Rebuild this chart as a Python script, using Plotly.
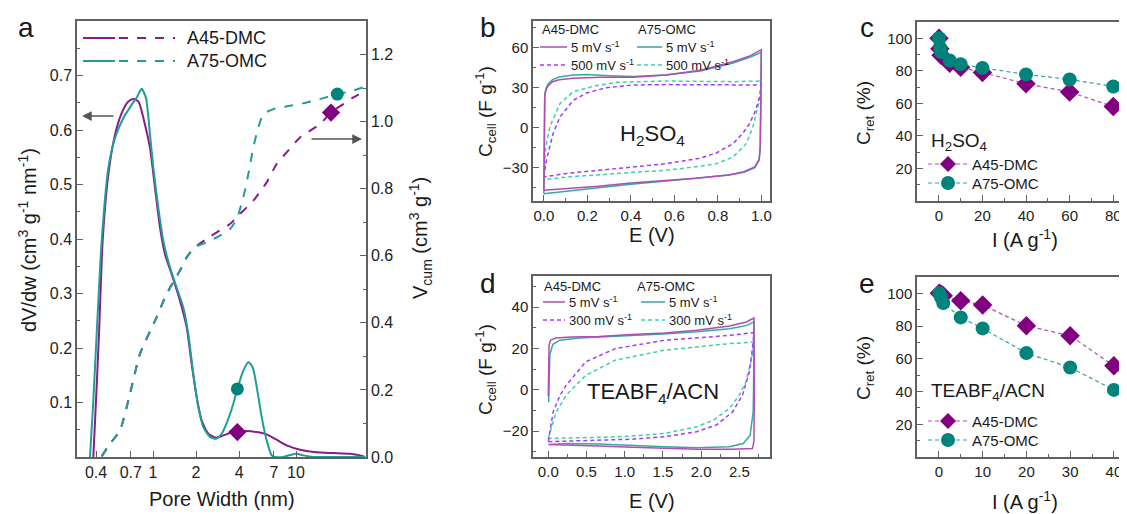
import plotly.graph_objects as go

# ---------------- Panel a : pore size distribution ----------------
psd_w_a45 = [0.3826, 0.3994, 0.4191, 0.4446, 0.4872, 0.5423, 0.6037, 0.6722, 0.7285, 0.7898,
             0.8792, 0.9528, 1.0327, 1.1193, 1.2131, 1.3506, 1.5445, 1.7197, 1.8639, 2.0201,
             2.1892, 2.4373, 2.7580, 3.1034, 3.4551, 3.8884, 4.5186, 5.3075, 6.2360, 7.3253,
             8.6040, 10.666, 13.947, 18.242, 23.855, 28.031, 30.377]
psd_a45 = [0, 0.1037, 0.2256, 0.3963, 0.5183, 0.5915, 0.6311, 0.6524, 0.6567, 0.6524,
           0.6098, 0.5671, 0.4939, 0.4207, 0.3720, 0.3354, 0.2866, 0.2378, 0.1707, 0.1098,
           0.0671, 0.0427, 0.0354, 0.0396, 0.0439, 0.0457, 0.0476, 0.0457, 0.0415, 0.0317,
           0.0213, 0.0134, 0.0085, 0.0073, 0.0061, 0.0030, 0]

psd_w_a75 = [0.3625, 0.3826, 0.4037, 0.4375, 0.4872, 0.5423, 0.6202, 0.7092, 0.7767, 0.8332,
             0.8934, 0.9528, 1.0054, 1.0897, 1.1810, 1.3148, 1.4637, 1.6297, 1.7665, 1.9146,
             2.0749, 2.2490, 2.5036, 2.7580, 3.0218, 3.3637, 3.6459, 3.8884, 4.2823, 4.6418,
             4.9770, 5.3646, 5.7532, 6.2360, 6.7579, 7.1307, 8.1547, 9.0781, 10.108, 11.254,
             13.218, 18.242, 30.377]
psd_a75 = [0, 0.1037, 0.2256, 0.3963, 0.5305, 0.5854, 0.6220, 0.6463, 0.6616, 0.6756,
           0.6585, 0.5915, 0.5305, 0.4573, 0.3963, 0.3476, 0.3110, 0.2744, 0.2256, 0.1524,
           0.0915, 0.0549, 0.0366, 0.0335, 0.0427, 0.0701, 0.0976, 0.1250, 0.1585, 0.1738,
           0.1646, 0.1220, 0.0732, 0.0305, 0.0030, 0, 0, 0.0037, 0.0061, 0.0030,
           0, 0, 0]

cum_w_a45 = [0.4375, 0.5005, 0.5877, 0.6905, 0.8112, 1.0608, 1.2462, 1.5445, 1.7197, 1.9667,
             2.5036, 3.4551, 4.0590, 5.0307, 6.2360, 7.3253, 8.6040, 10.666, 14.715, 17.573,
             21.429, 25.171, 30.377]
cum_a45 = [0.002, 0.0397, 0.0794, 0.1886, 0.3077, 0.4169, 0.4864, 0.5559, 0.5956, 0.6254,
           0.6571, 0.6949, 0.7246, 0.7643, 0.8189, 0.8735, 0.9083, 0.9529, 0.9927, 1.0274,
           1.0522, 1.0721, 1.0919]

cum_w_a75 = [0.4375, 0.5005, 0.5877, 0.6905, 0.8112, 1.0608, 1.2462, 1.5445, 1.7197, 1.9667,
             2.3730, 2.9415, 3.4551, 3.8466, 4.2823, 4.6418, 5.0307, 5.4520, 5.9102, 6.9423,
             9.0781, 11.874, 15.526, 19.454, 23.855, 30.377]
cum_a75 = [0.002, 0.0397, 0.0794, 0.1886, 0.3077, 0.4169, 0.4864, 0.5559, 0.5956, 0.6254,
           0.6403, 0.6601, 0.6800, 0.7097, 0.7743, 0.8437, 0.9232, 0.9827, 1.0224, 1.0373,
           1.0473, 1.0572, 1.0701, 1.0820, 1.0899, 1.1038]

mark_psd_w = [3.89]
mark_psd_a45 = [0.0457]
mark_psd_a75 = [0.125]
mark_cum_w_a45 = [17.57]
mark_cum_a45 = [1.027]
mark_cum_w_a75 = [19.45]
mark_cum_a75 = [1.082]

pore_ticks = [0.4, 0.7, 1, 2, 4, 7, 10]
pore_ticktext = ["0.4", "0.7", "1", "2", "4", "7", "10"]

# ---------------- Panel b : CV in H2SO4 ----------------
b_E_a45_5 = [0, 0.002, 0.004, 0.01, 0.02, 0.04, 0.07, 0.135, 0.26, 0.41, 0.56, 0.72, 0.87, 0.95, 1.0,
             0.998, 0.995, 0.99, 0.97, 0.92, 0.85, 0.7, 0.55, 0.4, 0.25, 0.1, 0]
b_C_a45_5 = [-47, 10, 24, 28.5, 31.5, 34.5, 36, 37, 37.8, 37.8, 39.5, 43, 49.5, 54, 58.5,
             20, -15, -24, -29.5, -33, -35.5, -38, -39.5, -41.5, -44, -46, -47]
b_E_a75_5 = [0, 0.002, 0.004, 0.01, 0.02, 0.04, 0.07, 0.135, 0.2, 0.3, 0.41, 0.56, 0.72, 0.87, 0.95, 1.0,
             0.998, 0.995, 0.99, 0.97, 0.92, 0.85, 0.7, 0.55, 0.4, 0.25, 0.1, 0]
b_C_a75_5 = [-49.5, 10, 25, 29.5, 33, 36, 38, 39.5, 39.8, 39, 38.3, 39.5, 42.5, 48.5, 53, 56.5,
             20, -15, -24, -30, -33.5, -35.5, -38, -40, -42.5, -45, -47.5, -49.5]
b_E_a45_500 = [0, 0.012, 0.043, 0.074, 0.135, 0.196, 0.288, 0.41, 0.56, 0.72, 0.87, 1.0,
               0.992, 0.974, 0.946, 0.916, 0.87, 0.793, 0.717, 0.56, 0.41, 0.257, 0.104, 0]
b_C_a45_500 = [-37, -24, -4, 8, 20.5, 26, 30, 32, 32.3, 32, 32, 32,
               23, 13, 3, -4, -12, -19, -23, -27, -29.5, -32, -34.3, -37]
b_E_a75_500 = [0, 0.008, 0.028, 0.074, 0.135, 0.227, 0.334, 0.56, 0.87, 1.0,
               0.995, 0.985, 0.962, 0.931, 0.87, 0.793, 0.717, 0.56, 0.41, 0.257, 0.104, 0]
b_C_a75_500 = [-39, -15, 1, 18, 27, 31, 34, 35, 34.5, 35,
               25, 16, 1, -12, -22, -27, -29, -32, -33.5, -35, -37, -39]

# ---------------- Panel d : CV in TEABF4/ACN ----------------
d_E_a45_5 = [0, 0.004, 0.01, 0.03, 0.1, 0.3, 0.66, 1.09, 1.52, 1.94, 2.37, 2.59, 2.69,
             2.695, 2.69, 2.67, 2.4, 1.95, 1.52, 1.1, 0.66, 0.24, 0.02, 0]
d_C_a45_5 = [-3, 10, 21.5, 24, 25, 25.5, 25.8, 26.7, 27.5, 28.8, 30.8, 32.8, 34.7,
             0, -25, -28.4, -28.7, -28.7, -28.4, -27.8, -27.2, -26.8, -26.4, -26.4]
d_E_a75_5 = [0.005, 0.02, 0.06, 0.15, 0.4, 0.9, 1.5, 1.94, 2.37, 2.59, 2.69,
             2.685, 2.68, 2.64, 2.55, 2.37, 1.94, 1.52, 1.1, 0.66, 0.24, 0.02]
d_C_a75_5 = [-6, 17, 22, 24, 25, 25.8, 27, 28, 29.5, 31, 32.8,
             0, -10.7, -22, -26, -27.5, -28, -27.5, -26.8, -26.2, -26, -26.4]
d_E_a45_300 = [0, 0.064, 0.15, 0.235, 0.49, 0.876, 1.517, 2.37, 2.69,
               2.67, 2.63, 2.54, 2.41, 2.2, 1.94, 1.52, 1.09, 0.66, 0.235, 0]
d_C_a45_300 = [-25, -10.7, -3, 2.2, 13.5, 19.9, 23.9, 26.3, 27.6,
               19.9, 8.7, -2.6, -10.7, -17, -20.3, -22.7, -23.9, -24.5, -24.8, -25.1]
d_E_a75_300 = [0, 0.1, 0.235, 0.49, 0.876, 1.517, 2.37, 2.69,
               2.66, 2.585, 2.5, 2.37, 2.16, 1.94, 1.52, 1.09, 0.66, 0.235, 0]
d_C_a75_300 = [-23.5, -11, -2.6, 7, 14.3, 19.1, 22.3, 23.1,
               15, 3.8, -2.6, -9, -14.7, -17.9, -21.1, -22.4, -23, -23.4, -23.5]

# ---------------- Panel c / e : capacitance retention ----------------
c_I = [0.1, 0.5, 1, 5, 10, 20, 40, 60, 80]
c_a45 = [100, 93.5, 89.5, 84.7, 82.2, 79, 72, 67, 58]
c_a75 = [100, 94.5, 91.5, 86.3, 84, 81.8, 77.8, 74.7, 70.4]
e_I = [0.1, 0.5, 1, 5, 10, 20, 30, 40]
e_a45 = [100, 99.5, 98.5, 95.5, 92.9, 80.2, 74.1, 55.7]
e_a75 = [100, 97.5, 94.1, 85.3, 78.6, 63.5, 54.7, 41]

# page has an 8px body margin: the figure is drawn 8px in from the window corner
OFF = 8
W, H = 1127 - OFF, 514 - OFF
PUR = "#8a1a8c"
TEA = "#1f9e96"
PUR_CV = "#b04cb8"
TEA_CV = "#35a8a0"
PUR_D = "#9d3cff"
TEA_D = "#3ad3a8"
PUR_RET = "#b050b8"
TEA_RET = "#2aa59c"
MK_P = "#800080"
MK_T = "#00837b"
FONT = "Arial, Liberation Sans, sans-serif"
AX = "#606060"

def px(x):
    return (x - OFF) / W

def py(y):
    return 1 - (y - OFF) / H

fig = go.Figure()

# panel a traces
fig.add_trace(go.Scatter(x=psd_w_a45, y=psd_a45, mode="lines", line=dict(color=PUR, width=2, shape="spline", smoothing=0.6),
                         xaxis="x", yaxis="y", showlegend=False))
fig.add_trace(go.Scatter(x=psd_w_a75, y=psd_a75, mode="lines", line=dict(color=TEA, width=2, shape="spline", smoothing=0.6),
                         xaxis="x", yaxis="y", showlegend=False))
fig.add_trace(go.Scatter(x=cum_w_a45, y=cum_a45, mode="lines", line=dict(color=PUR, width=2, dash="dash", shape="spline", smoothing=0.6),
                         xaxis="x", yaxis="y2", showlegend=False))
fig.add_trace(go.Scatter(x=cum_w_a75, y=cum_a75, mode="lines", line=dict(color=TEA, width=2, dash="dash", shape="spline", smoothing=0.6),
                         xaxis="x", yaxis="y2", showlegend=False))
fig.add_trace(go.Scatter(x=mark_psd_w, y=mark_psd_a45, mode="markers", marker=dict(symbol="diamond", size=14, color=MK_P),
                         xaxis="x", yaxis="y", showlegend=False))
fig.add_trace(go.Scatter(x=mark_psd_w, y=mark_psd_a75, mode="markers", marker=dict(symbol="circle", size=13, color=MK_T),
                         xaxis="x", yaxis="y", showlegend=False))
fig.add_trace(go.Scatter(x=mark_cum_w_a45, y=mark_cum_a45, mode="markers", marker=dict(symbol="diamond", size=14, color=MK_P),
                         xaxis="x", yaxis="y2", showlegend=False))
fig.add_trace(go.Scatter(x=mark_cum_w_a75, y=mark_cum_a75, mode="markers", marker=dict(symbol="circle", size=13, color=MK_T),
                         xaxis="x", yaxis="y2", showlegend=False))

# panel b traces
for E, C, col, dash in [(b_E_a75_500, b_C_a75_500, TEA_D, "4px,3px"),
                        (b_E_a45_500, b_C_a45_500, PUR_D, "4px,3px"),
                        (b_E_a75_5, b_C_a75_5, TEA_CV, "solid"),
                        (b_E_a45_5, b_C_a45_5, PUR_CV, "solid")]:
    fig.add_trace(go.Scatter(x=E, y=C, mode="lines", line=dict(color=col, width=1.5, dash=dash),
                             xaxis="x2", yaxis="y3", showlegend=False))

# panel d traces
for E, C, col, dash in [(d_E_a75_300, d_C_a75_300, TEA_D, "4px,3px"),
                        (d_E_a45_300, d_C_a45_300, PUR_D, "4px,3px"),
                        (d_E_a75_5, d_C_a75_5, TEA_CV, "solid"),
                        (d_E_a45_5, d_C_a45_5, PUR_CV, "solid")]:
    fig.add_trace(go.Scatter(x=E, y=C, mode="lines", line=dict(color=col, width=1.5, dash=dash),
                             xaxis="x4", yaxis="y5", showlegend=False))

# panel c / e traces
for I, C, lc, mc, sym, sz, xa, ya in [(c_I, c_a45, PUR_RET, MK_P, "diamond", 15, "x3", "y4"),
                                      (c_I, c_a75, TEA_RET, MK_T, "circle", 14, "x3", "y4"),
                                      (e_I, e_a45, PUR_RET, MK_P, "diamond", 15, "x5", "y6"),
                                      (e_I, e_a75, TEA_RET, MK_T, "circle", 14, "x5", "y6")]:
    fig.add_trace(go.Scatter(x=I, y=C, mode="lines+markers", line=dict(color=lc, width=1.2, dash="4px,3px"),
                             marker=dict(symbol=sym, size=sz, color=mc), xaxis=xa, yaxis=ya, showlegend=False))

def axstyle(**kw):
    d = dict(showline=True, linecolor=AX, linewidth=1.5, mirror=True, ticks="inside", ticklen=6,
             tickwidth=1.2, tickcolor=AX, showgrid=False, zeroline=False,
             tickfont=dict(family=FONT, size=15, color="#222"), automargin=False)
    d.update(kw)
    return d

def minor(dt, t0=0):
    return dict(ticks="inside", ticklen=3.5, tickwidth=1, tickcolor=AX, tickmode="linear", dtick=dt, tick0=t0, showgrid=False)

layout = dict(
    width=W, height=H, autosize=False, margin=dict(l=0, r=0, t=0, b=0),
    paper_bgcolor="white", plot_bgcolor="white",
    font=dict(family=FONT, color="#222"),
    xaxis=axstyle(domain=[px(77), px(366)], type="log", range=[-0.5315, 1.4895],
                  tickmode="array", tickvals=pore_ticks, ticktext=pore_ticktext, anchor="y",
                  tickfont=dict(family=FONT, size=16, color="#222")),
    yaxis=axstyle(domain=[py(457), py(21)], range=[0, 0.8], anchor="x", mirror=False,
                  tickmode="array", tickvals=[0.1, 0.2, 0.3, 0.4, 0.5, 0.6, 0.7], minor=minor(0.05),
                  tickfont=dict(family=FONT, size=16, color="#222")),
    yaxis2=axstyle(range=[0, 1.3], overlaying="y", side="right", anchor="x", mirror=False,
                   tickmode="linear", dtick=0.2, tick0=0, tickformat=".1f", minor=minor(0.1),
                   tickfont=dict(family=FONT, size=16, color="#222")),
    xaxis2=axstyle(domain=[px(533), px(770)], range=[-0.05, 1.04], anchor="y3",
                   dtick=0.2, tick0=0, tickformat=".1f", minor=minor(0.1)),
    yaxis3=axstyle(domain=[py(201), py(21)], range=[-55, 80], anchor="x2",
                   dtick=30, tick0=0, minor=minor(15)),
    xaxis3=axstyle(domain=[px(917), 1.0], range=[-10, 86.3], anchor="y4",
                   dtick=20, tick0=0, minor=minor(10)),
    yaxis4=axstyle(domain=[py(201), py(22)], range=[0, 110], anchor="x3",
                   tickmode="array", tickvals=[20, 40, 60, 80, 100], minor=minor(10)),
    xaxis4=axstyle(domain=[px(533), px(770)], range=[-0.2, 2.9], anchor="y5",
                   dtick=0.5, tick0=0, tickformat=".1f", minor=minor(0.25)),
    yaxis5=axstyle(domain=[py(457), py(276)], range=[-32.5, 55], anchor="x4",
                   dtick=20, tick0=0, minor=minor(10)),
    xaxis5=axstyle(domain=[px(917), 1.0], range=[-5, 43], anchor="y6",
                   dtick=10, tick0=0, minor=minor(5)),
    yaxis6=axstyle(domain=[py(457), py(277)], range=[0, 110], anchor="x5",
                   tickmode="array", tickvals=[20, 40, 60, 80, 100], minor=minor(10)),
    showlegend=False,
)
fig.update_layout(**layout)

ann = []
def txt(x, y, s, size, xanchor="center", angle=0, yanchor="middle"):
    ann.append(dict(x=px(x), y=py(y), xref="paper", yref="paper", text=s, showarrow=False,
                    xanchor=xanchor, yanchor=yanchor, textangle=angle,
                    font=dict(family=FONT, size=size, color="#1a1a1a")))

shapes = []
def seg(x0, x1, y, col, dash="solid", w=2):
    shapes.append(dict(type="line", xref="paper", yref="paper", x0=px(x0), x1=px(x1), y0=py(y), y1=py(y),
                       line=dict(color=col, width=w, dash=dash)))

def diamond(cx, cy, r, col):
    x0, y0 = px(cx), py(cy)
    hx, hy = r / W, r / H
    shapes.append(dict(type="path", xref="paper", yref="paper",
                       path=f"M {x0},{y0 + hy} L {x0 + hx},{y0} L {x0},{y0 - hy} L {x0 - hx},{y0} Z",
                       fillcolor=col, line=dict(width=0)))

def dot(cx, cy, r, col):
    shapes.append(dict(type="circle", xref="paper", yref="paper", x0=px(cx - r), x1=px(cx + r),
                       y0=py(cy + r), y1=py(cy - r), fillcolor=col, line=dict(width=0)))

# panel letters
for x, y, s in [(26, 28, "a"), (488, 28, "b"), (867, 28, "c"), (488, 283, "d"), (867, 283, "e")]:
    txt(x, y, s, 28)

# axis titles
txt(222, 499, "Pore Width (nm)", 20)
txt(27, 240, "dV/dw (cm<sup>3</sup> g<sup>-1</sup> nm<sup>-1</sup>)", 20, angle=-90)
txt(420, 238, "V<sub>cum</sub> (cm<sup>3</sup> g<sup>-1</sup>)", 20, angle=-90)
txt(485, 112, "C<sub>cell</sub> (F g<sup>-1</sup>)", 19, angle=-90)
txt(652, 235, "E (V)", 20)
txt(485, 370, "C<sub>cell</sub> (F g<sup>-1</sup>)", 19, angle=-90)
txt(652, 501, "E (V)", 20)
txt(865, 113, "C<sub>ret</sub> (%)", 19, angle=-90)
txt(1025, 238, "I (A g<sup>-1</sup>)", 20)
txt(865, 368, "C<sub>ret</sub> (%)", 19, angle=-90)
txt(1025, 500, "I (A g<sup>-1</sup>)", 20)

# inner labels
txt(652, 135, "H<sub>2</sub>SO<sub>4</sub>", 22)
txt(653, 393, "TEABF<sub>4</sub>/ACN", 22)

# panel a legend
txt(185, 38, "A45-DMC", 18, xanchor="left")
txt(185, 61, "A75-OMC", 18, xanchor="left")
seg(83, 115, 38, PUR); seg(119, 175, 38, PUR, "dash")
seg(83, 115, 61, TEA); seg(119, 175, 61, TEA, "dash")

# panel b legend
txt(540, 30, "A45-DMC", 13, xanchor="left")
txt(636, 30, "A75-OMC", 13, xanchor="left")
seg(540, 567, 47, PUR_CV, w=1.5); txt(569, 47, "5 mV s<sup>-1</sup>", 13, xanchor="left")
seg(540, 567, 65, PUR_D, "4px,3px", w=1.5); txt(569, 65, "500 mV s<sup>-1</sup>", 13, xanchor="left")
seg(637, 662, 47, TEA_CV, w=1.5); txt(664, 47, "5 mV s<sup>-1</sup>", 13, xanchor="left")
seg(637, 662, 65, TEA_D, "4px,3px", w=1.5); txt(664, 65, "500 mV s<sup>-1</sup>", 13, xanchor="left")

# panel d legend
txt(542, 286, "A45-DMC", 13, xanchor="left")
txt(635, 286, "A75-OMC", 13, xanchor="left")
seg(543, 565, 302, PUR_CV, w=1.5); txt(567, 302, "5 mV s<sup>-1</sup>", 13, xanchor="left")
seg(543, 565, 320, PUR_D, "4px,3px", w=1.5); txt(567, 320, "300 mV s<sup>-1</sup>", 13, xanchor="left")
seg(641, 665, 302, TEA_CV, w=1.5); txt(667, 302, "5 mV s<sup>-1</sup>", 13, xanchor="left")
seg(641, 665, 320, TEA_D, "4px,3px", w=1.5); txt(667, 320, "300 mV s<sup>-1</sup>", 13, xanchor="left")

# panel c / e legends
for ty, title, r1, r2 in [(142, "H<sub>2</sub>SO<sub>4</sub>", 164, 183),
                          (392, "TEABF<sub>4</sub>/ACN", 421, 440)]:
    txt(929, ty, title, 19, xanchor="left")
    seg(928, 968, r1, PUR_RET, "4px,3px", w=1.2); diamond(948, r1, 8, MK_P)
    txt(970, r1, "A45-DMC", 15, xanchor="left")
    seg(928, 968, r2, TEA_RET, "4px,3px", w=1.2); dot(948, r2, 7, MK_T)
    txt(970, r2, "A75-OMC", 15, xanchor="left")

# arrows in panel a
ann.append(dict(x=px(82), y=py(116), xref="paper", yref="paper", ax=33, ay=0, text="", showarrow=True,
                arrowhead=2, arrowsize=1.3, arrowwidth=1.5, arrowcolor="#555"))
ann.append(dict(x=px(362), y=py(139), xref="paper", yref="paper", ax=-52, ay=0, text="", showarrow=True,
                arrowhead=2, arrowsize=1.3, arrowwidth=1.5, arrowcolor="#555"))

fig.update_layout(annotations=ann, shapes=shapes)
fig.write_html("out.html")
